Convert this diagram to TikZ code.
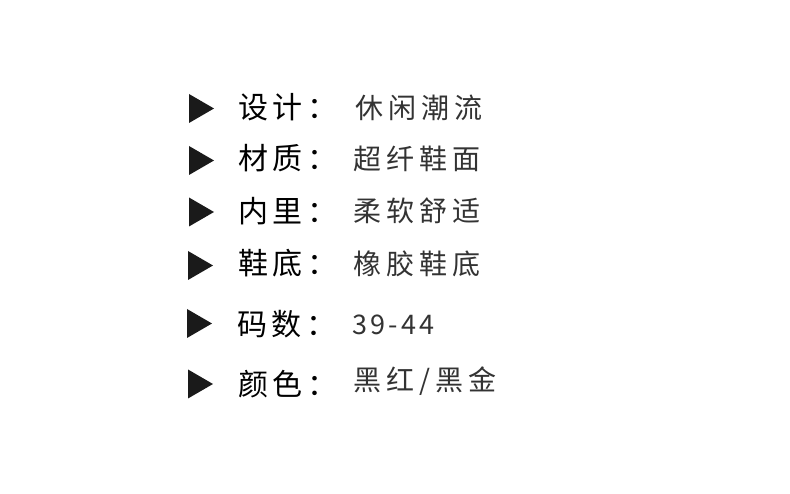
\documentclass[tikz,border=0pt]{standalone}
\usepackage{fontspec}
\newfontfamily\labfont[LetterSpace=16]{Noto Sans CJK SC}
\newfontfamily\valfont[LetterSpace=18]{Noto Sans CJK SC}
\newfontfamily\numfont[LetterSpace=12]{Noto Sans CJK SC}
\definecolor{tri}{HTML}{1A1A1A}
\definecolor{valc}{HTML}{333333}
\begin{document}
\begin{tikzpicture}[x=1pt,y=1pt,
  lab/.style={anchor=west,inner sep=0pt,text=black,font=\labfont\fontsize{30}{30}\selectfont},
  val/.style={anchor=west,inner sep=0pt,text=valc,font=\valfont\fontsize{28}{28}\selectfont},
  num/.style={anchor=west,inner sep=0pt,text=valc,font=\numfont\fontsize{27}{27}\selectfont}]
\useasboundingbox[fill=white] (0,0) rectangle (790,494);
% triangles: (x_left, y_center) in pixel coords from top
\foreach \nm/\xl/\yc in {t1/189/108.5,t2/189/160.5,t3/189/212,t4/188/265.5,t5/187/323.5,t6/188/384}{
  \coordinate (\nm) at (\xl,494-\yc);
  \fill[tri] ([yshift=14.5]\nm) -- ([xshift=25]\nm) -- ([yshift=-14.5]\nm) -- cycle;
}
\node[lab] (l1) at (238,494-107.5) {设计：};
\node[lab] (l2) at (238,494-158.5) {材质：};
\node[lab] (l3) at (238,494-211) {内里：};
\node[lab] (l4) at (238,494-263.5) {鞋底：};
\node[lab] (l5) at (237,494-324) {码数：};
\node[lab] (l6) at (238,494-384) {颜色：};
\node[val] (v1) at (355,494-107.5) {休闲潮流};
\node[val] (v2) at (353,494-158.5) {超纤鞋面};
\node[val] (v3) at (353,494-211) {柔软舒适};
\node[val] (v4) at (353,494-264) {橡胶鞋底};
\node[num] (v5) at (352,494-324.5) {39-44};
\node[val] (v6) at (353,494-381.5) {黑红/黑金};
\end{tikzpicture}
\end{document}
